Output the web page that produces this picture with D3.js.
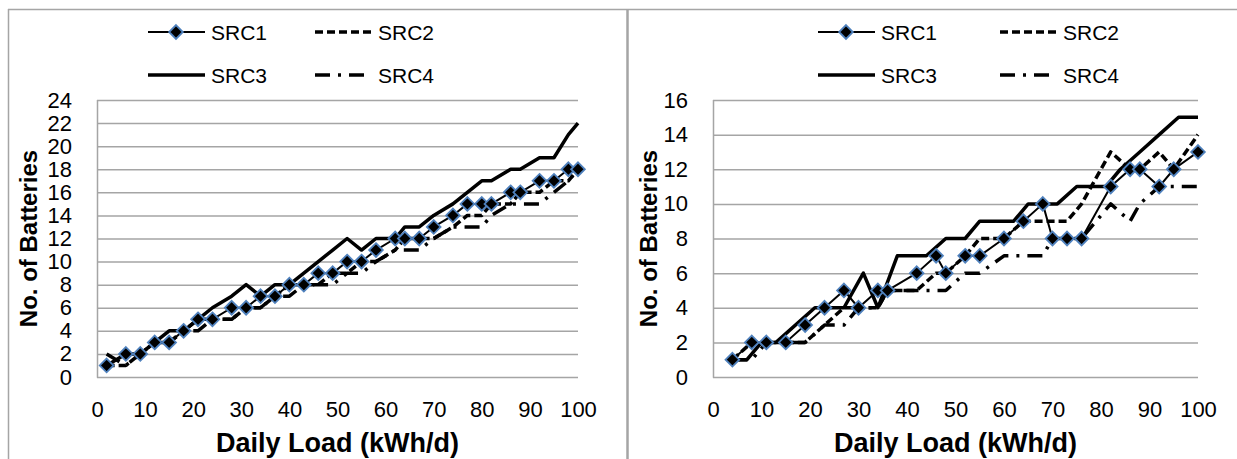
<!DOCTYPE html>
<html>
<head>
<meta charset="utf-8">
<script src="https://cdn.jsdelivr.net/npm/d3@7/dist/d3.min.js"></script>
<style>
  body { margin: 0; background: #fff; }
  svg text { font-family: 'Liberation Sans', Arial, sans-serif; fill: #000; }
</style>
</head>
<body>
<svg width="1237" height="459"></svg>
<script>
// ---- data ----
const seriesNames = ['SRC1', 'SRC2', 'SRC3', 'SRC4'];
const loadTicks = [0, 10, 20, 30, 40, 50, 60, 70, 80, 90, 100];

// left chart
const leftLoad = [2, 6, 9, 12, 15, 18, 21, 24, 28, 31, 34, 37, 40, 43, 46, 49, 52, 55, 58, 62, 64, 67, 70, 74, 77, 80, 82, 86, 88, 92, 95, 98, 100];
const leftSrc1 = [1, 2, 2, 3, 3, 4, 5, 5, 6, 6, 7, 7, 8, 8, 9, 9, 10, 10, 11, 12, 12, 12, 13, 14, 15, 15, 15, 16, 16, 17, 17, 18, 18];
const leftSrc2 = [1, 1, 2, 3, 3, 4, 5, 5, 5, 6, 6, 7, 8, 8, 8, 9, 9, 10, 10, 11, 12, 12, 12, 13, 14, 14, 15, 15, 16, 16, 17, 17, 18];
const leftSrc3 = [1, 2, 2, 3, 4, 4, 5, 6, 7, 8, 7, 8, 8, 9, 10, 11, 12, 11, 12, 12, 13, 13, 14, 15, 16, 17, 17, 18, 18, 19, 19, 21, 22];
const leftSrc4 = [2, 1, 2, 3, 3, 4, 4, 5, 5, 6, 6, 7, 7, 8, 8, 8, 9, 9, 10, 11, 11, 11, 12, 13, 13, 13, 14, 15, 15, 15, 16, 17, 18];
const leftTicks = [0, 2, 4, 6, 8, 10, 12, 14, 16, 18, 20, 22, 24];

// right chart
const rightLoad = [4, 8, 11, 15, 19, 23, 27, 30, 34, 36, 42, 46, 48, 52, 55, 60, 64, 68, 70, 73, 76, 82, 86, 88, 92, 95, 100];
const rightSrc1 = [1, 2, 2, 2, 3, 4, 5, 4, 5, 5, 6, 7, 6, 7, 7, 8, 9, 10, 8, 8, 8, 11, 12, 12, 11, 12, 13];
const rightSrc2 = [1, 2, 2, 2, 2, 3, 4, 4, 4, 5, 5, 6, 6, 7, 8, 8, 9, 9, 9, 9, 10, 13, 12, 12, 13, 12, 14];
const rightSrc4 = [1, 1, 2, 2, 2, 3, 3, 4, 4, 5, 5, 5, 5, 6, 6, 7, 7, 7, 8, 8, 8, 10, 9, 10, 11, 11, 11];
const rightSrc3Load = [3, 7, 10, 13, 21, 27, 31, 34, 38, 44, 48, 52, 55, 62, 65, 71, 75, 81, 84, 88, 92, 96, 100];
const rightSrc3 = [1, 1, 2, 2, 4, 4, 6, 4, 7, 7, 8, 8, 9, 9, 10, 10, 11, 11, 12, 13, 14, 15, 15];
const rightTicks = [0, 2, 4, 6, 8, 10, 12, 14, 16];

// ---- styles per series ----
const styles = {
  SRC1: { width: 2, dash: null, marker: true },
  SRC2: { width: 3.5, dash: '8,4', marker: false },
  SRC3: { width: 3.5, dash: null, marker: false },
  SRC4: { width: 3.5, dash: '15,8,3,8', marker: false }
};

const zip = (xs, ys) => xs.map((x, i) => ({ x: x, y: ys[i] }));

const charts = [
  {
    left: 97, right: 578, yMax: 24, ticks: leftTicks,
    titleX: 37, legendX: [148, 315],
    series: {
      SRC1: zip(leftLoad, leftSrc1),
      SRC2: zip(leftLoad, leftSrc2),
      SRC3: zip(leftLoad, leftSrc3),
      SRC4: zip(leftLoad, leftSrc4)
    }
  },
  {
    left: 713, right: 1198, yMax: 16, ticks: rightTicks,
    titleX: 657, legendX: [818, 1000],
    series: {
      SRC1: zip(rightLoad, rightSrc1),
      SRC2: zip(rightLoad, rightSrc2),
      SRC3: zip(rightSrc3Load, rightSrc3),
      SRC4: zip(rightLoad, rightSrc4)
    }
  }
];

const svg = d3.select('svg');
const plotTop = 100, plotBottom = 377;
const grey = '#a5a5a5';
const font = "'Liberation Sans', Arial, sans-serif";

// frames around both panels
svg.append('line').attr('x1', 8).attr('x2', 1237).attr('y1', 9.5).attr('y2', 9.5)
  .attr('stroke', grey).attr('stroke-width', 1.5);
svg.append('line').attr('x1', 8.5).attr('x2', 8.5).attr('y1', 9).attr('y2', 459)
  .attr('stroke', grey).attr('stroke-width', 1.5);
svg.append('line').attr('x1', 627.5).attr('x2', 627.5).attr('y1', 9).attr('y2', 459)
  .attr('stroke', grey).attr('stroke-width', 2.5);

const diamond = d3.symbol().type(d3.symbolDiamond2).size(120);

charts.forEach(c => {
  const x = d3.scaleLinear().domain([0, 100]).range([c.left, c.right]);
  const y = d3.scaleLinear().domain([0, c.yMax]).range([plotBottom, plotTop]);
  const g = svg.append('g');

  // horizontal gridlines + y labels
  const yAxis = g.append('g')
    .attr('transform', `translate(${c.left},0)`)
    .call(d3.axisLeft(y).tickValues(c.ticks).tickSize(-(c.right - c.left)).tickPadding(25))
    .attr('font-family', font);
  yAxis.select('.domain').remove();
  yAxis.selectAll('line').attr('stroke', grey).attr('stroke-width', 1.5);
  yAxis.selectAll('text').style('font-size', '22px').attr('fill', '#000');

  // x axis
  const xAxis = g.append('g')
    .attr('transform', `translate(0,${plotBottom})`)
    .call(d3.axisBottom(x).tickValues(loadTicks).tickSize(0).tickPadding(24))
    .attr('font-family', font);
  xAxis.select('.domain').remove();
  xAxis.selectAll('text').style('font-size', '22px').attr('fill', '#000');

  // vertical axis line
  g.append('line').attr('x1', c.left + 0.5).attr('x2', c.left + 0.5)
    .attr('y1', plotTop).attr('y2', plotBottom + 0.75)
    .attr('stroke', grey).attr('stroke-width', 1.5);

  // titles
  g.append('text')
    .attr('x', (c.left + c.right) / 2).attr('y', 452)
    .attr('text-anchor', 'middle')
    .style('font-size', '27px').style('font-weight', 'bold')
    .text('Daily Load (kWh/d)');
  g.append('text')
    .attr('transform', `translate(${c.titleX},${(plotTop + plotBottom) / 2}) rotate(-90)`)
    .attr('text-anchor', 'middle')
    .style('font-size', '24px').style('font-weight', 'bold')
    .text('No. of Batteries');

  // series lines, SRC1 drawn last so its markers sit on top
  const line = d3.line().x(d => x(d.x)).y(d => y(d.y));
  ['SRC4', 'SRC2', 'SRC3', 'SRC1'].forEach(name => {
    const st = styles[name];
    g.append('path')
      .datum(c.series[name])
      .attr('d', line)
      .attr('fill', 'none')
      .attr('stroke', '#000')
      .attr('stroke-width', st.width)
      .attr('stroke-dasharray', st.dash)
      .attr('stroke-linejoin', 'round');
  });

  g.append('g').selectAll('path')
    .data(c.series.SRC1)
    .enter().append('path')
    .attr('d', diamond)
    .attr('transform', d => `translate(${x(d.x)},${y(d.y)})`)
    .attr('fill', '#000')
    .attr('stroke', '#4f81bd')
    .attr('stroke-width', 1.8);

  // legend: two rows, two columns
  seriesNames.forEach((name, i) => {
    const st = styles[name];
    const lx = c.legendX[i % 2];
    const ly = i < 2 ? 32 : 75;
    const lg = g.append('g');
    lg.append('line')
      .attr('x1', lx).attr('x2', lx + 57).attr('y1', ly).attr('y2', ly)
      .attr('stroke', '#000').attr('stroke-width', st.width)
      .attr('stroke-dasharray', st.dash);
    if (st.marker) {
      lg.append('path').attr('d', diamond)
        .attr('transform', `translate(${lx + 28},${ly})`)
        .attr('fill', '#000').attr('stroke', '#4f81bd').attr('stroke-width', 1.8);
    }
    lg.append('text')
      .attr('x', lx + 63).attr('y', ly + 8)
      .style('font-size', '21px')
      .text(name);
  });
});
</script>
</body>
</html>
